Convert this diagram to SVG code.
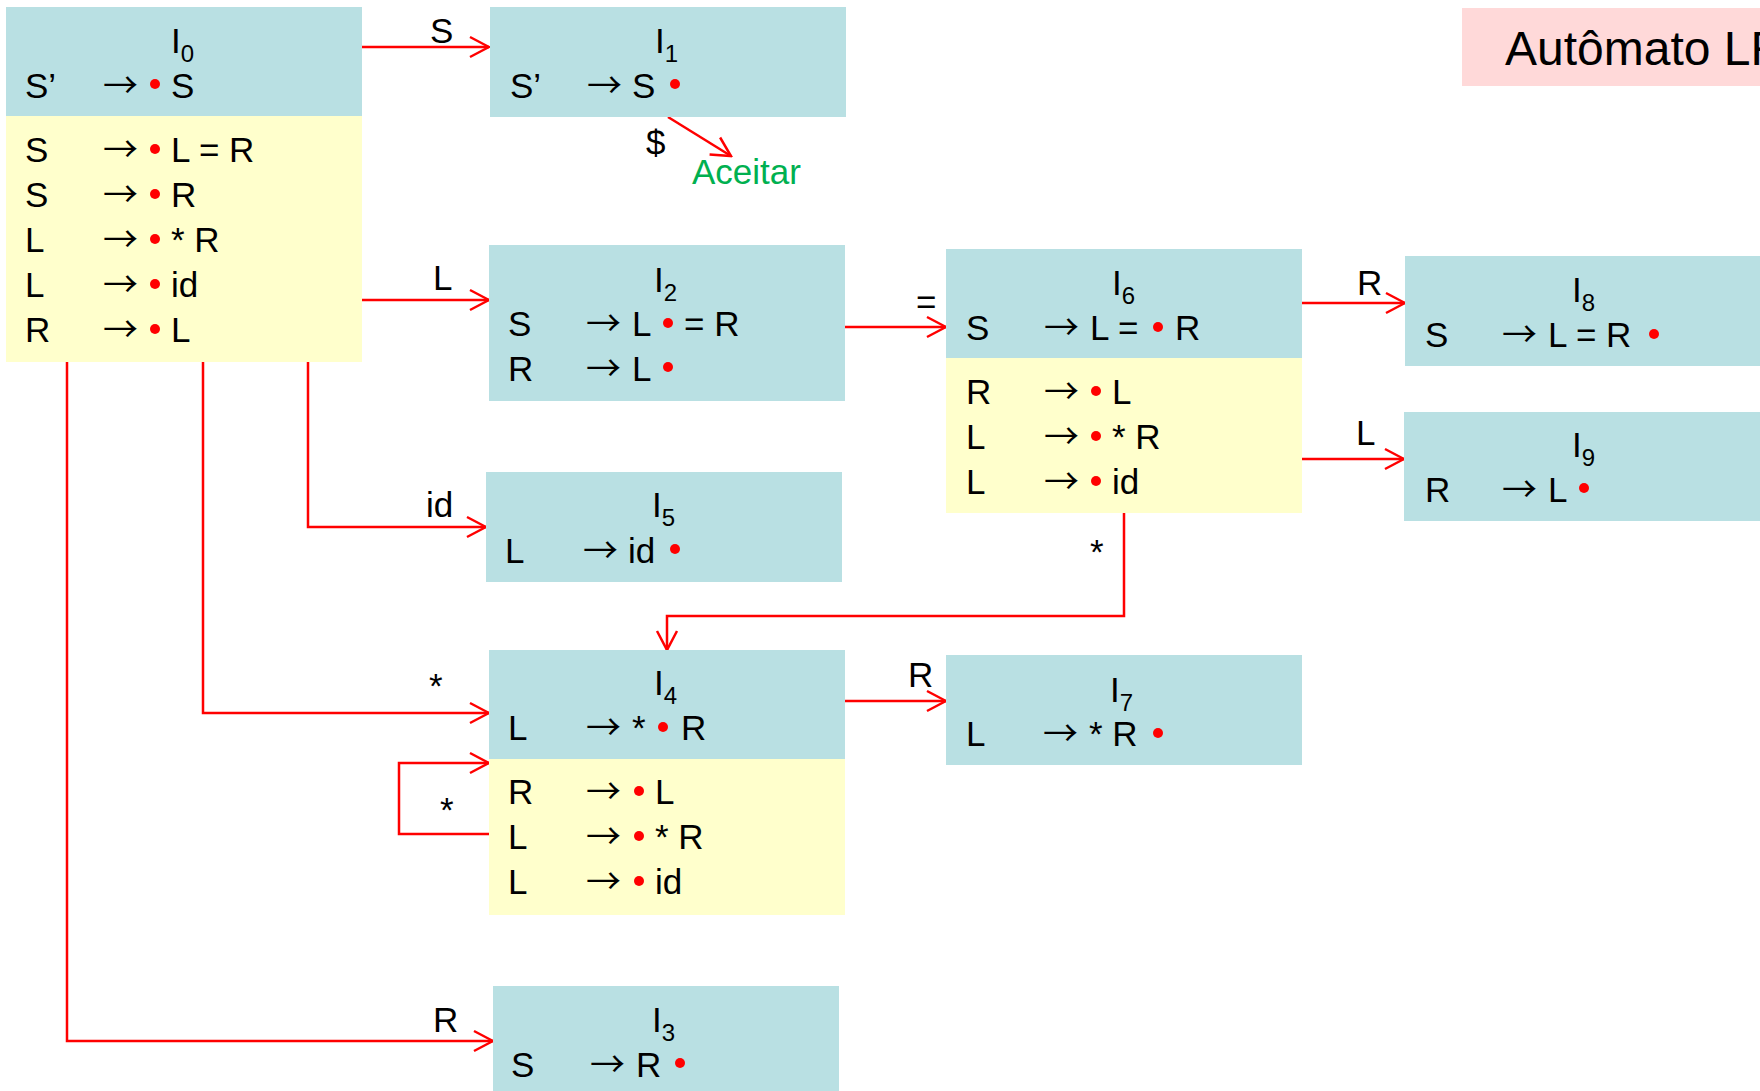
<svg xmlns="http://www.w3.org/2000/svg" width="1760" height="1091" viewBox="0 0 1760 1091">
  <defs>
    <marker id="open-arrow" markerUnits="userSpaceOnUse" markerWidth="24" markerHeight="24" viewBox="-22 -12 24 24" refX="0" refY="0" orient="auto">
      <path d="M -19 -10 L 0 0 L -19 10" fill="none" stroke="#ff0000" stroke-width="2.5"/>
    </marker>
    <style>
      text { font-family: "Liberation Sans", Arial, sans-serif; font-size: 35px; fill: #000; }
      .sub { font-size: 24px; }
      .arr { font-family: "Noto Sans CJK SC", "DejaVu Sans", sans-serif; font-size: 35px; }
      .head { fill: #b9e0e3; }
      .closure { fill: #ffffcc; }
      .dot { fill: #ff0000; }
      .edge { fill: none; stroke: #ff0000; stroke-width: 2.5; marker-end: url(#open-arrow); }
      .accept { fill: #00b050; }
      .title { font-size: 48px; }
    </style>
  </defs>

  <rect width="1760" height="1091" fill="#ffffff"/>

  <!-- title banner -->
  <g id="title">
    <rect x="1462" y="8" width="310" height="78" fill="#ffd9d9"/>
    <text class="title" x="1505" y="65">Autômato LR</text>
  </g>

  <!-- connectors -->
  <g id="connectors">
    <path class="edge" d="M 362 47 H 489"/>
    <text x="430" y="43">S</text>

    <path class="edge" d="M 362 300 H 489"/>
    <text x="433" y="290">L</text>

    <path class="edge" d="M 308 362 V 527 H 486"/>
    <text x="426" y="517">id</text>

    <path class="edge" d="M 203 362 V 713 H 489"/>
    <text x="429" y="698">*</text>

    <path class="edge" d="M 67 362 V 1041 H 493"/>
    <text x="433" y="1032">R</text>

    <path class="edge" d="M 845 327 H 946"/>
    <text x="916" y="314">=</text>

    <path class="edge" d="M 1302 303 H 1405"/>
    <text x="1357" y="295">R</text>

    <path class="edge" d="M 1302 459 H 1404"/>
    <text x="1356" y="445">L</text>

    <path class="edge" d="M 1124 513 V 616 H 667 V 650"/>
    <text x="1090" y="564">*</text>

    <path class="edge" d="M 845 701 H 946"/>
    <text x="908" y="687">R</text>

    <path class="edge" d="M 489 834 H 399 V 763 H 489"/>
    <text x="440" y="822">*</text>

    <path class="edge" d="M 668 117 L 731 156"/>
    <text x="646" y="155">$</text>
    <text class="accept" x="692" y="184">Aceitar</text>
  </g>

  <!-- I0 -->
  <g id="I0">
    <rect class="head" x="6" y="7" width="356" height="109"/>
    <rect class="closure" x="6" y="116" width="356" height="246"/>
    <text x="171" y="53">I<tspan class="sub" dy="9">0</tspan></text>
    <text x="25" y="98">S’</text><text class="arr" x="103" y="98">→</text><circle class="dot" cx="155" cy="84" r="5"/><text x="171" y="98">S</text>
    <text x="25" y="162">S</text><text class="arr" x="103" y="162">→</text><circle class="dot" cx="155" cy="149" r="5"/><text x="171" y="162">L = R</text>
    <text x="25" y="207">S</text><text class="arr" x="103" y="207">→</text><circle class="dot" cx="155" cy="194" r="5"/><text x="171" y="207">R</text>
    <text x="25" y="252">L</text><text class="arr" x="103" y="252">→</text><circle class="dot" cx="155" cy="239" r="5"/><text x="171" y="252">* R</text>
    <text x="25" y="297">L</text><text class="arr" x="103" y="297">→</text><circle class="dot" cx="155" cy="284" r="5"/><text x="171" y="297">id</text>
    <text x="25" y="342">R</text><text class="arr" x="103" y="342">→</text><circle class="dot" cx="155" cy="329" r="5"/><text x="171" y="342">L</text>
  </g>

  <!-- I1 -->
  <g id="I1">
    <rect class="head" x="490" y="7" width="356" height="110"/>
    <text x="655" y="53">I<tspan class="sub" dy="9">1</tspan></text>
    <text x="510" y="98">S’</text><text class="arr" x="587" y="98">→</text><text x="632" y="98">S</text><circle class="dot" cx="675" cy="84" r="5"/>
  </g>

  <!-- I2 -->
  <g id="I2">
    <rect class="head" x="489" y="245" width="356" height="156"/>
    <text x="654" y="292">I<tspan class="sub" dy="9">2</tspan></text>
    <text x="508" y="336">S</text><text class="arr" x="586" y="336">→</text><text x="632" y="336">L</text><circle class="dot" cx="668" cy="323" r="5"/><text x="684" y="336">= R</text>
    <text x="508" y="381">R</text><text class="arr" x="586" y="381">→</text><text x="632" y="381">L</text><circle class="dot" cx="668" cy="367" r="5"/>
  </g>

  <!-- I3 -->
  <g id="I3">
    <rect class="head" x="493" y="986" width="346" height="105"/>
    <text x="652" y="1032">I<tspan class="sub" dy="9">3</tspan></text>
    <text x="511" y="1077">S</text><text class="arr" x="590" y="1077">→</text><text x="636" y="1077">R</text><circle class="dot" cx="680" cy="1063" r="5"/>
  </g>

  <!-- I4 -->
  <g id="I4">
    <rect class="head" x="489" y="650" width="356" height="109"/>
    <rect class="closure" x="489" y="759" width="356" height="156"/>
    <text x="654" y="695">I<tspan class="sub" dy="9">4</tspan></text>
    <text x="508" y="740">L</text><text class="arr" x="586" y="740">→</text><text x="632" y="740">*</text><circle class="dot" cx="663" cy="727" r="5"/><text x="681" y="740">R</text>
    <text x="508" y="804">R</text><text class="arr" x="586" y="804">→</text><circle class="dot" cx="639" cy="791" r="5"/><text x="655" y="804">L</text>
    <text x="508" y="849">L</text><text class="arr" x="586" y="849">→</text><circle class="dot" cx="639" cy="836" r="5"/><text x="655" y="849">* R</text>
    <text x="508" y="894">L</text><text class="arr" x="586" y="894">→</text><circle class="dot" cx="639" cy="881" r="5"/><text x="655" y="894">id</text>
  </g>

  <!-- I5 -->
  <g id="I5">
    <rect class="head" x="486" y="472" width="356" height="110"/>
    <text x="652" y="517">I<tspan class="sub" dy="9">5</tspan></text>
    <text x="505" y="563">L</text><text class="arr" x="583" y="563">→</text><text x="628" y="563">id</text><circle class="dot" cx="675" cy="549" r="5"/>
  </g>

  <!-- I6 -->
  <g id="I6">
    <rect class="head" x="946" y="249" width="356" height="109"/>
    <rect class="closure" x="946" y="358" width="356" height="155"/>
    <text x="1112" y="295">I<tspan class="sub" dy="9">6</tspan></text>
    <text x="966" y="340">S</text><text class="arr" x="1044" y="340">→</text><text x="1090" y="340">L =</text><circle class="dot" cx="1158" cy="327" r="5"/><text x="1175" y="340">R</text>
    <text x="966" y="404">R</text><text class="arr" x="1044" y="404">→</text><circle class="dot" cx="1096" cy="391" r="5"/><text x="1112" y="404">L</text>
    <text x="966" y="449">L</text><text class="arr" x="1044" y="449">→</text><circle class="dot" cx="1096" cy="436" r="5"/><text x="1112" y="449">* R</text>
    <text x="966" y="494">L</text><text class="arr" x="1044" y="494">→</text><circle class="dot" cx="1096" cy="481" r="5"/><text x="1112" y="494">id</text>
  </g>

  <!-- I7 -->
  <g id="I7">
    <rect class="head" x="946" y="655" width="356" height="110"/>
    <text x="1110" y="702">I<tspan class="sub" dy="9">7</tspan></text>
    <text x="966" y="746">L</text><text class="arr" x="1043" y="746">→</text><text x="1089" y="746">* R</text><circle class="dot" cx="1158" cy="733" r="5"/>
  </g>

  <!-- I8 -->
  <g id="I8">
    <rect class="head" x="1405" y="256" width="360" height="110"/>
    <text x="1572" y="302">I<tspan class="sub" dy="9">8</tspan></text>
    <text x="1425" y="347">S</text><text class="arr" x="1502" y="347">→</text><text x="1548" y="347">L = R</text><circle class="dot" cx="1654" cy="334" r="5"/>
  </g>

  <!-- I9 -->
  <g id="I9">
    <rect class="head" x="1404" y="412" width="360" height="109"/>
    <text x="1572" y="457">I<tspan class="sub" dy="9">9</tspan></text>
    <text x="1425" y="502">R</text><text class="arr" x="1502" y="502">→</text><text x="1548" y="502">L</text><circle class="dot" cx="1584" cy="488" r="5"/>
  </g>
</svg>
